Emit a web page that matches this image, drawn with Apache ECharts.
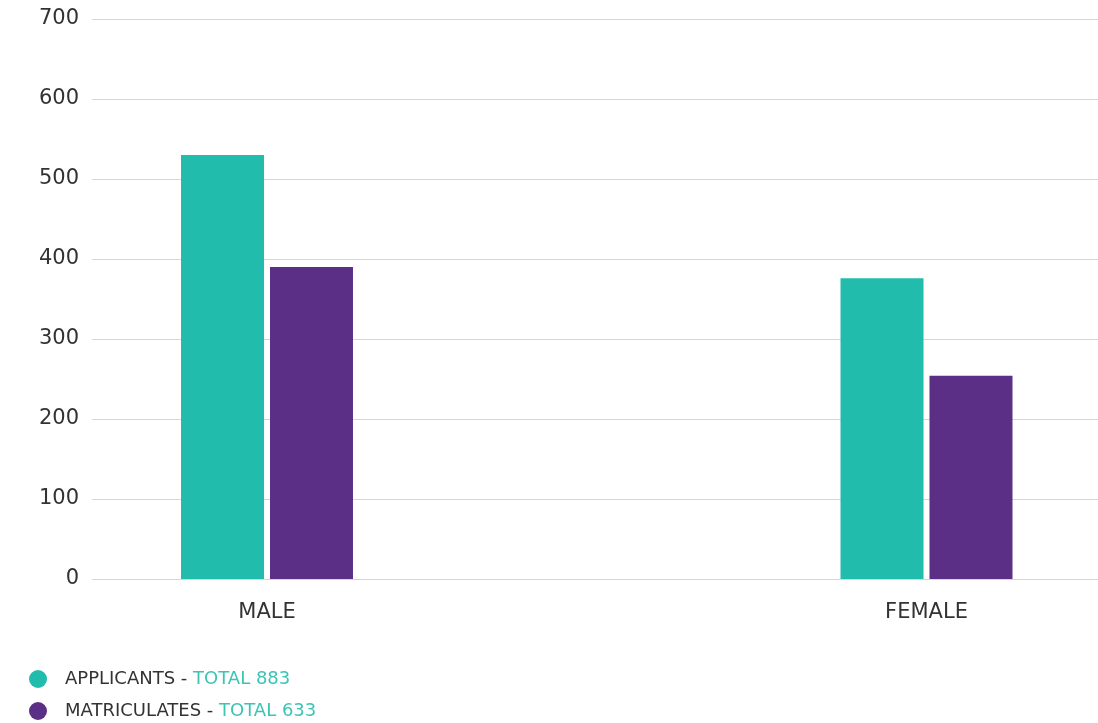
<!DOCTYPE html>
<html>
<head>
<meta charset="utf-8">
<script src="https://cdn.jsdelivr.net/npm/echarts@6/dist/echarts.min.js"></script>
<style>
html,body{margin:0;padding:0;background:#fff;}
#chart{width:1098px;height:723px;}
</style>
</head>
<body>
<div id="chart"></div>
<script>
const categories = ['MALE', 'FEMALE'];
const seriesNames = ['APPLICANTS', 'MATRICULATES'];
const applicants = [530, 376];
const matriculates = [390, 254];
const totals = [883, 633];
const yTicks = [0, 100, 200, 300, 400, 500, 600, 700];

const teal = '#21bcab';
const purple = '#5c2f87';
const FONT = 'DejaVu Sans';

function legendFor(i, top) {
  return {
    orient: 'vertical', left: 24, top: top, padding: 5,
    itemWidth: 18, itemHeight: 18, icon: 'circle',
    data: [seriesNames[i]],
    formatter: function (name) {
      return '{a|' + name + ' - }{b|TOTAL ' + totals[i] + '}';
    },
    textStyle: {
      rich: {
        a: { color: '#333', fontSize: 18, fontFamily: FONT, padding: [0, 0, 0, 13] },
        b: { color: '#3cc4b5', fontSize: 18, fontFamily: FONT }
      }
    }
  };
}

const chart = echarts.init(document.getElementById('chart'));
chart.setOption({
  animation: false,
  textStyle: { fontFamily: FONT },
  grid: [
    { left: 92, right: 0, top: 19, bottom: 144 },
    { left: 267, width: 659.5, top: 19, bottom: 144 }
  ],
  xAxis: [
    { type: 'category', gridIndex: 0, show: false, data: categories },
    {
      type: 'category', gridIndex: 1, data: categories, boundaryGap: false,
      axisLine: { show: false }, axisTick: { show: false },
      splitLine: { show: false },
      axisLabel: { color: '#333', fontSize: 21, fontFamily: FONT, margin: 23 }
    }
  ],
  yAxis: [
    {
      type: 'value', gridIndex: 0, min: yTicks[0], max: yTicks[yTicks.length - 1], interval: 100,
      axisLine: { show: false }, axisTick: { show: false },
      axisLabel: { color: '#333', fontSize: 21, fontFamily: FONT, margin: 13, padding: [3, 0, 0, 0] },
      splitLine: { lineStyle: { color: '#d6d6d6', width: 1 } }
    },
    {
      type: 'value', gridIndex: 1, min: yTicks[0], max: yTicks[yTicks.length - 1], interval: 100,
      show: false, splitLine: { show: false }
    }
  ],
  legend: [legendFor(0, 665), legendFor(1, 697)],
  series: [
    {
      name: seriesNames[0], type: 'bar', xAxisIndex: 1, yAxisIndex: 1,
      data: applicants, barWidth: 83, barGap: '7.2%',
      itemStyle: { color: teal }
    },
    {
      name: seriesNames[1], type: 'bar', xAxisIndex: 1, yAxisIndex: 1,
      data: matriculates, barWidth: 83, barGap: '7.2%',
      itemStyle: { color: purple }
    }
  ]
});
</script>
</body>
</html>
